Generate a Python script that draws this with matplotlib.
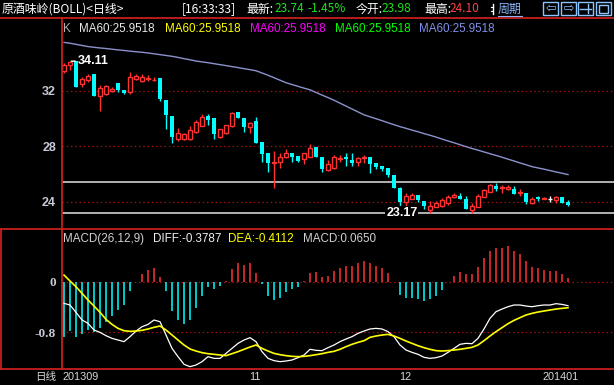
#!/usr/bin/env python3
"""
Daily K-line chart with MA60 and MACD sub-panel, dark trading-terminal look.
"""

import matplotlib
matplotlib.use('Agg')  # no display
import matplotlib.pyplot as plt
import matplotlib.transforms as mtransforms
from matplotlib.patches import Rectangle
import numpy as np

W, H = 614, 385

# ---- daily bars ----
opens = [33.42, 33.80, 34.11, 32.47, 32.75, 33.18, 31.63, 31.72, 31.96, 32.51,
         32.03, 31.91, 32.80, 32.68, 32.80, 32.73, 32.87, 31.31, 30.16, 28.48,
         28.48, 28.48, 29.04, 29.47, 30.16, 30.00, 28.68, 28.92, 29.47, 30.47,
         30.00, 29.40, 29.83, 28.27, 27.48, 26.81, 26.88, 27.19, 27.48, 27.29,
         27.07, 27.24, 27.91, 27.19, 26.28, 26.40, 27.07, 27.19, 27.00, 26.88,
         27.12, 27.19, 26.76, 26.59, 26.40, 25.92, 25.01, 24.00, 24.19, 24.48,
         24.02, 23.40, 23.64, 23.69, 23.93, 24.36, 24.43, 24.19, 23.40, 23.59,
         24.31, 24.72, 25.13, 25.01, 24.89, 24.91, 24.60, 24.60, 23.88, 24.31,
         24.22, 24.22, 24.10, 24.31, 23.98]
highs = [33.95, 34.08, 34.11, 32.99, 33.18, 33.18, 32.39, 32.39, 32.27, 32.51,
         32.03, 33.33, 33.18, 33.18, 33.11, 32.99, 32.87, 31.31, 30.16, 29.28,
         28.96, 29.44, 29.88, 30.28, 30.31, 30.00, 29.25, 29.52, 30.47, 30.47,
         30.00, 29.76, 30.07, 28.27, 27.48, 27.65, 27.48, 27.79, 27.48, 27.29,
         27.53, 28.15, 27.91, 27.19, 27.00, 27.36, 27.36, 27.53, 27.53, 27.24,
         27.36, 27.19, 26.76, 26.59, 26.40, 25.92, 25.08, 24.60, 24.60, 24.48,
         24.02, 24.07, 24.07, 24.24, 24.48, 24.60, 24.65, 24.41, 23.88, 24.55,
         24.89, 25.27, 25.37, 25.20, 25.20, 25.13, 24.91, 24.60, 24.31, 24.43,
         24.34, 24.41, 24.41, 24.31, 24.10]
lows = [33.23, 33.50, 32.27, 32.27, 32.63, 31.63, 30.55, 31.67, 31.91, 31.87,
        31.75, 31.72, 32.75, 32.63, 32.70, 32.66, 31.27, 29.23, 28.20, 28.39,
        28.44, 28.44, 28.96, 29.44, 29.52, 28.51, 28.60, 28.87, 29.40, 30.00,
        29.04, 28.92, 28.24, 26.88, 26.16, 24.96, 26.45, 27.12, 26.88, 26.88,
        26.71, 27.19, 27.19, 26.16, 26.23, 26.35, 26.88, 26.59, 26.57, 26.57,
        26.81, 26.09, 26.33, 26.23, 25.80, 25.01, 23.28, 23.45, 24.17, 24.00,
        23.45, 23.17, 23.59, 23.64, 23.76, 24.24, 24.19, 23.47, 23.20, 23.59,
        24.31, 24.67, 24.79, 24.65, 24.84, 24.55, 24.41, 23.83, 23.83, 24.07,
        24.17, 24.00, 23.93, 23.93, 23.70]
closes = [33.83, 34.05, 32.27, 32.83, 33.04, 31.63, 32.15, 32.32, 32.10, 32.03,
          31.84, 32.94, 33.04, 32.97, 32.87, 32.75, 31.36, 30.23, 28.68, 28.92,
          28.84, 29.16, 29.71, 30.12, 29.88, 28.87, 29.20, 29.49, 30.36, 30.00,
          29.40, 29.68, 28.24, 27.45, 26.81, 26.88, 27.19, 27.48, 27.19, 26.95,
          27.48, 27.88, 27.19, 26.35, 26.71, 27.24, 27.12, 27.05, 26.81, 27.12,
          27.19, 26.71, 26.47, 26.35, 25.92, 25.01, 24.00, 24.41, 24.50, 24.12,
          23.69, 23.71, 23.93, 24.12, 24.36, 24.48, 24.19, 23.47, 23.71, 24.41,
          24.84, 25.20, 24.89, 25.08, 25.08, 24.55, 24.70, 23.95, 24.17, 24.19,
          24.26, 24.22, 24.31, 23.93, 23.74]
ma60 = [35.46, 35.40, 35.32, 35.24, 35.16, 35.11, 35.06, 35.02, 34.97, 34.92,
        34.88, 34.83, 34.79, 34.75, 34.70, 34.64, 34.58, 34.52, 34.46, 34.38,
        34.29, 34.21, 34.12, 34.06, 34.00, 33.93, 33.86, 33.79, 33.72, 33.65,
        33.57, 33.50, 33.42, 33.26, 33.10, 32.92, 32.74, 32.56, 32.43, 32.30,
        32.17, 32.05, 31.86, 31.67, 31.49, 31.30, 31.09, 30.88, 30.67, 30.46,
        30.25, 30.11, 29.97, 29.83, 29.68, 29.54, 29.40, 29.28, 29.15, 29.03,
        28.90, 28.78, 28.65, 28.51, 28.37, 28.24, 28.10, 27.96, 27.83, 27.71,
        27.58, 27.45, 27.33, 27.20, 27.06, 26.93, 26.79, 26.66, 26.52, 26.43,
        26.34, 26.24, 26.14, 26.05, 25.95]

# ---- MACD(26,12,9) ----
diff = [-0.342, -0.368, -0.484, -0.605, -0.658, -0.763, -0.800, -0.853, -0.895, -0.921,
        -0.947, -0.868, -0.779, -0.711, -0.674, -0.605, -0.632, -0.842, -1.053, -1.184,
        -1.305, -1.342, -1.316, -1.263, -1.184, -1.211, -1.211, -1.132, -1.053, -0.974,
        -0.921, -0.884, -0.947, -1.105, -1.211, -1.247, -1.263, -1.253, -1.237, -1.200,
        -1.158, -1.068, -1.084, -1.089, -1.042, -1.000, -0.947, -0.905, -0.868, -0.816,
        -0.779, -0.747, -0.737, -0.747, -0.789, -0.868, -1.000, -1.079, -1.116, -1.147,
        -1.195, -1.211, -1.200, -1.174, -1.116, -1.053, -0.989, -0.974, -0.979, -0.895,
        -0.747, -0.579, -0.474, -0.432, -0.395, -0.368, -0.368, -0.384, -0.395, -0.379,
        -0.368, -0.368, -0.347, -0.358, -0.379]
dea = [0.105, 0.011, -0.079, -0.184, -0.289, -0.384, -0.484, -0.595, -0.674, -0.737,
       -0.774, -0.784, -0.779, -0.768, -0.747, -0.721, -0.700, -0.763, -0.842, -0.921,
       -1.000, -1.063, -1.095, -1.121, -1.137, -1.147, -1.158, -1.168, -1.137, -1.105,
       -1.068, -1.032, -1.000, -1.053, -1.095, -1.132, -1.153, -1.168, -1.179, -1.184,
       -1.179, -1.168, -1.153, -1.137, -1.116, -1.100, -1.068, -1.026, -0.989, -0.958,
       -0.932, -0.879, -0.858, -0.842, -0.832, -0.858, -0.895, -0.937, -0.974, -1.011,
       -1.042, -1.068, -1.089, -1.095, -1.089, -1.079, -1.068, -1.053, -1.037, -1.000,
       -0.932, -0.858, -0.789, -0.726, -0.663, -0.611, -0.568, -0.526, -0.500, -0.479,
       -0.463, -0.447, -0.432, -0.421, -0.411]
macd_hist = [-0.88, -0.78, -0.88, -0.83, -0.76, -0.80, -0.73, -0.63, -0.54, -0.45,
             -0.37, -0.15, -0.01, 0.12, 0.19, 0.22, 0.07, -0.15, -0.47, -0.61,
             -0.67, -0.61, -0.42, -0.22, -0.09, -0.12, -0.06, 0.01, 0.20, 0.30,
             0.27, 0.30, 0.13, -0.04, -0.22, -0.29, -0.25, -0.16, -0.12, -0.09,
             0.01, 0.14, 0.15, 0.08, 0.09, 0.17, 0.22, 0.25, 0.25, 0.30,
             0.33, 0.29, 0.25, 0.21, 0.14, -0.01, -0.21, -0.26, -0.26, -0.27,
             -0.30, -0.28, -0.23, -0.13, -0.01, 0.09, 0.15, 0.12, 0.12, 0.23,
             0.37, 0.49, 0.54, 0.54, 0.57, 0.49, 0.44, 0.32, 0.24, 0.22,
             0.18, 0.17, 0.17, 0.12, 0.065]

# readouts shown in the header rows
ma60_last = 25.9518
diff_last, dea_last, macd_last = -0.3787, -0.4112, 0.0650

price_ticks = [24, 28, 32]
macd_ticks = [0, -0.8]
hline_levels = [25.40, 23.17]
date_idx = [0, 31, 56, 80]
date_labels = ['201309', '11', '12', '201401']

RED = '#ff3232'
CYAN = '#00ffff'
FRAME = '#c81e1e'
GRID = '#a01010'
TICK = '#c8c8d8'
CJK = ['Noto Sans CJK SC', 'DejaVu Sans']


def draw_candles(ax, o, h, l, c):
    x = np.arange(len(o))
    up = c > o
    dn = c < o
    flat = c == o
    top = np.maximum(o, c)
    bot = np.minimum(o, c)

    # falling days: filled cyan
    ax.vlines(x[dn], l[dn], h[dn], color=CYAN, lw=1, zorder=3)
    ax.bar(x[dn], (o - c)[dn], bottom=c[dn], width=0.8, color=CYAN,
           linewidth=0, zorder=3)

    # rising days: hollow red
    ax.vlines(x[up], top[up], h[up], color=RED, lw=1, zorder=3)
    ax.vlines(x[up], l[up], bot[up], color=RED, lw=1, zorder=3)
    ax.bar(x[up], (c - o)[up], bottom=o[up], width=0.68, facecolor='black',
           edgecolor=RED, linewidth=1, zorder=3)

    # doji
    ax.vlines(x[flat], l[flat], h[flat], color='white', lw=1, zorder=3)
    ax.hlines(o[flat], x[flat] - 0.4, x[flat] + 0.4, color='white', lw=1, zorder=3)


def style_axes(ax, ticks, labels, family, size):
    ax.set_facecolor('black')
    for s in ax.spines.values():
        s.set_visible(False)
    ax.set_xticks([])
    ax.set_yticks(ticks)
    ax.set_yticklabels(labels)
    ax.tick_params(axis='y', length=0, pad=4, colors=TICK)
    for t in ax.get_yticklabels():
        t.set_fontfamily(family)
        t.set_fontweight('bold')
        t.set_fontsize(size)
    for t in ticks:
        ax.axhline(t, color=GRID, lw=0.9, ls=(0, (1.2, 2.2)), zorder=1)


def main():
    o, h, l, c = map(np.array, (opens, highs, lows, closes))
    n = len(o)
    x = np.arange(n)

    fig = plt.figure(figsize=(W / 100, H / 100), dpi=100, facecolor='black')

    # ---- price panel ----
    ax = fig.add_axes([61.5 / W, (H - 228) / H, (W - 61.5) / W, 210 / H])
    ax.set_xlim(-0.42, 91.67)
    ax.set_ylim(22.108, 37.216)
    style_axes(ax, price_ticks, [str(t) for t in price_ticks], 'Liberation Sans', 9)

    for lv in hline_levels:
        ax.axhline(lv, color='#d0d0d0', lw=1.2, zorder=2)
    ax.plot(x, ma60, color='#8c92cc', lw=1, zorder=2)
    draw_candles(ax, o, h, l, c)

    imax = int(np.argmax(h))
    ax.annotate(f'{h[imax]:.2f}', xy=(imax - 0.8, h[imax]), xytext=(5, 0),
                textcoords='offset points', va='center', ha='left',
                color='white', fontsize=9, fontweight='bold',
                family='Liberation Sans',
                arrowprops=dict(arrowstyle='-', color='white', lw=1,
                                shrinkA=0, shrinkB=0), zorder=5)
    imin = int(np.argmin(l))
    ax.annotate(f'{l[imin]:.2f}', xy=(imin, l[imin]), xytext=(-9, 0),
                textcoords='offset points', va='center', ha='right',
                color='white', fontsize=9, fontweight='bold',
                family='Liberation Sans', zorder=5,
                bbox=dict(facecolor='black', edgecolor='none', pad=0.5))

    # ---- MACD panel ----
    ax2 = fig.add_axes([61.5 / W, (H - 369) / H, (W - 61.5) / W, 140 / H])
    ax2.set_xlim(-0.42, 91.67)
    ax2.set_ylim(-1.379, 0.833)
    style_axes(ax2, macd_ticks, ['0', '-0.8'], 'Liberation Serif', 9.5)

    hist = np.array(macd_hist)
    cols = [RED if v > 0 else CYAN for v in hist]
    ax2.vlines(x, 0, hist, colors=cols, lw=1.1, zorder=3)
    ax2.plot(x, diff, color='white', lw=0.9, zorder=4)
    ax2.plot(x, dea, color='#ffff00', lw=1.2, zorder=4)

    # ---- overlay in pixel coordinates: frame, headers, dates ----
    ov = fig.add_axes([0, 0, 1, 1])
    ov.set_xlim(0, W)
    ov.set_ylim(H, 0)
    ov.axis('off')
    ov.patch.set_alpha(0)

    ov.plot([0, W], [18, 18], color=FRAME, lw=1.3)
    ov.plot([0, W], [228.5, 228.5], color=FRAME, lw=1.3)
    ov.plot([0, W], [369, 369], color=FRAME, lw=1.3)
    ov.plot([61.5, 61.5], [18, 369], color=FRAME, lw=1.3)
    ov.plot([1, 1], [228.5, 369], color=FRAME, lw=1.3)

    # title bar
    title_bits = [
        (2, '原酒味岭(BOLL)<日线>', 'white'),
        (182, '[16:33:33]', 'white'),
        (246, '最新:', 'white'), (275, '23.74', '#20e020'), (307, '-1.45%', '#20e020'),
        (356, '今开:', 'white'), (382, '23.98', '#20e020'),
        (424, '最高:', 'white'), (450, '24.10', '#ff4040'),
    ]
    for xp, txt, col in title_bits:
        ov.text(xp, 9, txt, color=col, fontsize=8.6, family=CJK,
                ha='left', va='center')
    # clipped glyph before the period button
    ov.plot([493, 493], [4, 14], color='white', lw=1)
    ov.plot([491, 493], [7, 7], color='white', lw=0.8)
    ov.plot([491, 493], [11, 11], color='white', lw=0.8)
    ov.text(498, 9, '周期', color='#8ab4f8', fontsize=8.6, family=CJK,
            ha='left', va='center')
    ov.plot([498, 522], [16, 16], color='#8ab4f8', lw=0.8)

    icon_col = '#8cc4ff'
    for x0 in [543, 561, 578, 596]:
        ov.add_patch(Rectangle((x0, 2), 15, 13, fill=False, edgecolor=icon_col, lw=1))
    ov.text(550.5, 8.5, '⇦', color=icon_col, fontsize=9, ha='center', va='center')
    ov.text(568.5, 8.5, '⇨', color=icon_col, fontsize=9, ha='center', va='center')
    ov.plot([580, 591], [8.5, 8.5], color=icon_col, lw=1)
    ov.plot([588, 588], [4, 13], color=icon_col, lw=1)
    ov.add_patch(Rectangle((599, 4.5), 9, 8, fill=False, edgecolor=icon_col, lw=1))

    # MA legend row
    legend_bits = [
        (63, 'K', '#b0b0b0'),
        (79, f'MA60:{ma60_last:.4f}', '#e8e8e8'),
        (165, f'MA60:{ma60_last:.4f}', '#ffff00'),
        (250, f'MA60:{ma60_last:.4f}', '#ff00ff'),
        (335, f'MA60:{ma60_last:.4f}', '#00ff00'),
        (419, f'MA60:{ma60_last:.4f}', '#8090e8'),
    ]
    for xp, txt, col in legend_bits:
        ov.text(xp, 29, txt, color=col, fontsize=8.4, family='Liberation Sans',
                ha='left', va='center')

    # MACD legend row
    macd_bits = [
        (63, 'MACD(26,12,9)', '#d0d0d0'),
        (153, f'DIFF:{diff_last:.4f}', '#f0f0f0'),
        (228, f'DEA:{dea_last:.4f}', '#ffff00'),
        (303, f'MACD:{macd_last:.4f}', '#d0d0d0'),
    ]
    for xp, txt, col in macd_bits:
        ov.text(xp, 239, txt, color=col, fontsize=8.4, family='Liberation Sans',
                ha='left', va='center')

    # date axis
    tr = mtransforms.blended_transform_factory(ax2.transData, ov.transData)
    for i, lab in zip(date_idx, date_labels):
        ov.text(i - 0.2, 377, lab, transform=tr, color='#d8d8d8', fontsize=7.8,
                family='Liberation Sans', ha='left', va='center')
    ov.text(56, 377, '日线', color='#d8d8d8', fontsize=7.6, family=CJK,
            ha='right', va='center')

    fig.savefig('out.png', dpi=100, facecolor='black')
    return 0


if __name__ == "__main__":
    main()
